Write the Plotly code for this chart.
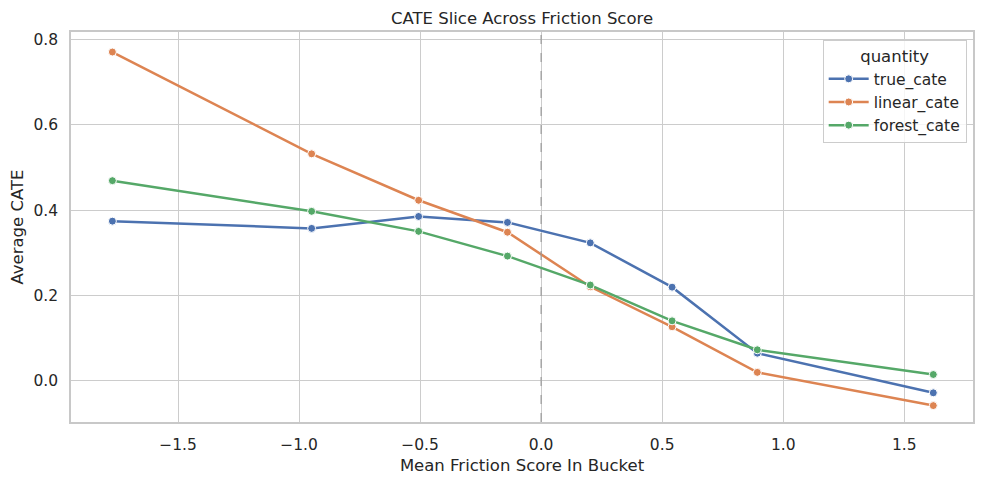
import plotly.graph_objects as go

# mean friction score per bucket
bucket_x = [-1.771, -0.948, -0.506, -0.139, 0.203, 0.541, 0.893, 1.620]

true_cate = [0.374, 0.357, 0.385, 0.371, 0.323, 0.219, 0.064, -0.029]
linear_cate = [0.771, 0.532, 0.423, 0.348, 0.220, 0.126, 0.019, -0.059]
forest_cate = [0.469, 0.397, 0.350, 0.292, 0.224, 0.140, 0.072, 0.014]

series = [
    ('true_cate', true_cate, '#4c72b0'),
    ('linear_cate', linear_cate, '#dd8452'),
    ('forest_cate', forest_cate, '#55a868'),
]

font = 'DejaVu Sans, Liberation Sans, sans-serif'
fig = go.Figure()

for name, vals, col in series:
    fig.add_trace(go.Scatter(
        x=bucket_x, y=vals, name=name, mode='lines+markers',
        line=dict(color=col, width=2.5),
        marker=dict(color=col, size=8, line=dict(color='white', width=1)),
    ))

# reference line at zero friction
fig.add_vline(x=0, line=dict(color='#999999', width=1.2, dash='dash'))

# page body has an 8px margin, so the figure is 8px smaller each way
fig.update_layout(
    width=976, height=476,
    margin=dict(l=63, r=11, t=24, b=62, autoexpand=False),
    paper_bgcolor='white', plot_bgcolor='white',
    font=dict(family=font, size=15.5, color='#262626'),
    title=dict(text='CATE Slice Across Friction Score', x=0.5, xref='paper',
               y=0.978, yanchor='middle', font=dict(size=16.5, color='#262626')),
    legend=dict(
        title=dict(text='quantity', side='top center', font=dict(size=16.5)),
        x=0.993, y=0.98, xanchor='right', yanchor='top',
        bgcolor='rgba(255,255,255,0.8)', bordercolor='#cccccc', borderwidth=1,
        font=dict(size=15.5), itemwidth=40, tracegroupgap=2,
    ),
    showlegend=True,
)

fig.update_xaxes(
    range=[-1.942, 1.784], tickvals=[-1.5, -1.0, -0.5, 0.0, 0.5, 1.0, 1.5],
    ticktext=['\u22121.5', '\u22121.0', '\u22120.5', '0.0', '0.5', '1.0', '1.5'],
    showgrid=True, gridcolor='#cccccc', gridwidth=1.1, zeroline=False,
    showline=True, linecolor='#c8c8c8', linewidth=1.6, mirror=True,
    ticks='', ticklabelstandoff=8, automargin=False,
    title=dict(text='Mean Friction Score In Bucket', font=dict(size=16.5), standoff=6),
)
fig.update_yaxes(
    range=[-0.0975, 0.818], tickvals=[0.0, 0.2, 0.4, 0.6, 0.8],
    ticktext=['0.0', '0.2', '0.4', '0.6', '0.8'],
    showgrid=True, gridcolor='#cccccc', gridwidth=1.1, zeroline=False,
    showline=True, linecolor='#c8c8c8', linewidth=1.6, mirror=True,
    ticks='', ticklabelstandoff=8, automargin=False,
    title=dict(text='Average CATE', font=dict(size=16.5), standoff=8),
)

fig.write_html('out.html')
